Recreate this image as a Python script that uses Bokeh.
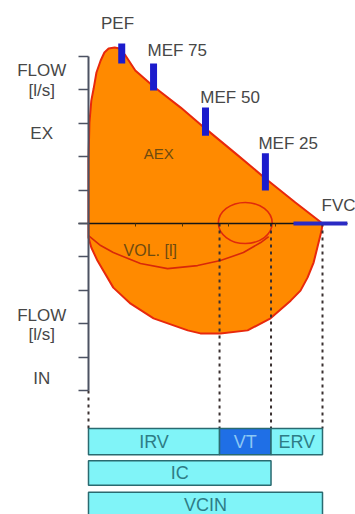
from bokeh.plotting import figure
from bokeh.models import Range1d, LinearAxis, FixedTicker, CustomJSTickFormatter
from bokeh.core.properties import value
from bokeh.embed import file_html
from bokeh.resources import INLINE

# ---------------- data (volume in l, flow in l/s) ----------------
exp_vol = [0.00, 0.00, 0.00, 0.02, 0.06, 0.11, 0.17, 0.26, 0.34, 0.43, 0.56, 0.66, 0.79, 1.00, 1.39, 1.97, 2.50, 3.14, 3.78, 4.42, 5.00]
exp_flow = [0.00, 0.69, 1.89, 3.02, 3.68, 4.04, 4.52, 4.88, 5.12, 5.24, 5.27, 5.24, 5.03, 4.58, 4.10, 3.47, 2.84, 2.10, 1.35, 0.63, 0.00]

insp_vol = [4.98, 4.89, 4.81, 4.68, 4.53, 4.32, 3.89, 3.40, 2.82, 2.39, 2.12, 1.39, 0.90, 0.53, 0.19, 0.06, 0.00]
insp_flow = [-0.21, -0.72, -1.17, -1.62, -2.01, -2.31, -2.84, -3.20, -3.29, -3.29, -3.20, -2.84, -2.40, -1.92, -1.11, -0.72, -0.42]

rest_vol = [0.00, 0.26, 0.53, 1.11, 1.69, 2.33, 2.82, 3.31, 3.68, 3.85]
rest_flow = [-0.36, -0.66, -0.87, -1.20, -1.35, -1.26, -1.11, -0.87, -0.57, -0.39]

tidal_vol = [3.35]
tidal_flow = [0.015]
tidal_width = [1.15]
tidal_height = [1.23]

marker_names = ["PEF", "MEF 75", "MEF 50", "MEF 25"]
marker_vol = [0.71, 1.39, 2.50, 3.78]
marker_low = [4.79, 3.98, 2.63, 0.99]
marker_high = [5.39, 4.79, 3.47, 2.10]

fvc = 5.0
irv_end = 2.8
vt_end = 3.9

flow_ticks = [-5, -4, -3, -2, -1, 0, 1, 2, 3, 4, 5]
vol_ticks = [1, 2, 3, 4]

bar_names = ["IRV", "VT", "ERV", "IC", "VCIN"]
bar_left = [0.0, irv_end, vt_end, 0.0, 0.0]
bar_right = [irv_end, vt_end, fvc, vt_end, fvc]
bar_top = [-6.14, -6.14, -6.14, -7.10, -8.05]
bar_bottom = [-6.92, -6.92, -6.92, -7.84, -8.80]
bar_fill = ["#80f4f8", "#1f6fe6", "#80f4f8", "#80f4f8", "#80f4f8"]
bar_text_color = ["#2e7c86", "#8cc8f4", "#2e7c86", "#2e7c86", "#2e7c86"]

# ---------------- figure ----------------
p = figure(width=355, height=514, output_backend="svg", toolbar_location=None,
           x_range=Range1d(-1.8803, 5.7051), y_range=Range1d(-8.7126, 6.6766),
           x_axis_type=None, y_axis_type=None, min_border=0)
p.outline_line_color = None
p.grid.visible = False
p.background_fill_color = "white"

blank = CustomJSTickFormatter(code="return '';")

yax = LinearAxis(fixed_location=0, ticker=FixedTicker(ticks=flow_ticks, minor_ticks=[]),
                 bounds=(-5, 5), formatter=blank)
yax.axis_line_color = "#4c5262"
yax.axis_line_width = 2
yax.major_tick_line_color = "#4c5262"
yax.major_tick_line_width = 1.5
yax.major_tick_out = 10
yax.major_tick_in = 0
p.add_layout(yax, "left")

xax = LinearAxis(fixed_location=0, ticker=FixedTicker(ticks=vol_ticks, minor_ticks=[]),
                 bounds=(-0.21, 5.53), formatter=blank)
xax.axis_line_color = "#151515"
xax.axis_line_width = 1.5
xax.major_tick_line_color = "#553300"
xax.major_tick_out = 3
xax.major_tick_in = 0
p.add_layout(xax, "below")

# flow-volume loop
p.patch(exp_vol + insp_vol, exp_flow + insp_flow, fill_color="#ff8a00",
        line_color="#e8280c", line_width=2)
p.line(rest_vol, rest_flow, line_color="#d8280a", line_width=1.6)
p.ellipse(x=tidal_vol, y=tidal_flow, width=tidal_width, height=tidal_height,
          fill_color=None, line_color="#e02a0c", line_width=1.6)

# dotted guides
guide_x = [0.0, irv_end, vt_end, fvc]
guide_top = [-5.0, 0.0, 0.0, 0.0]
guide_bot = [bar_top[0]] * 4
p.segment(x0=guide_x, y0=guide_top, x1=guide_x, y1=guide_bot,
          line_color="#3a3030", line_width=2, line_dash="3 4")

# markers
p.segment(x0=marker_vol, y0=marker_low, x1=marker_vol, y1=marker_high,
          line_color="#1c1ccc", line_width=7, line_cap="butt")
p.segment(x0=[4.38], y0=[0], x1=[5.53], y1=[0], line_color="#2a2ac4",
          line_width=4, level="overlay")

# bars
p.quad(left=bar_left, right=bar_right, top=bar_top, bottom=bar_bottom,
       fill_color=bar_fill, line_color="#2a6a70", line_width=1.5)
bar_cx = [(l + r) / 2 for l, r in zip(bar_left, bar_right)]
bar_cy = [(t + b) / 2 for t, b in zip(bar_top, bar_bottom)]
p.text(x=bar_cx, y=bar_cy, text=bar_names, text_color=bar_text_color,
       text_font=value("Liberation Sans"), text_font_size="18px",
       text_align="center", text_baseline="middle")

font = value("Liberation Sans")
lab_col = "#474747"
# marker labels
p.text(x=[0.62], y=[5.99], text=[marker_names[0]], text_font=font, text_font_size="17px",
       text_color=lab_col, text_align="center", text_baseline="middle")
p.text(x=[1.26, 2.39, 3.63, 4.98], y=[5.18, 3.77, 2.40, 0.54],
       text=marker_names[1:] + ["FVC"], text_font=font, text_font_size="17px",
       text_color=lab_col, text_align="left", text_baseline="middle")
# axis labels
p.text(x=[-1.0] * 6, y=[4.58, 3.98, 2.69, -2.75, -3.32, -4.64],
       text=["FLOW", "[l/s]", "EX", "FLOW", "[l/s]", "IN"], text_font=font,
       text_font_size="17px", text_color=lab_col, text_align="center",
       text_baseline="middle")
# inner labels
p.text(x=[1.50], y=[2.10], text=["AEX"], text_font=font, text_font_size="15px",
       text_color="#6e4a10", text_align="center", text_baseline="middle")
p.text(x=[1.32], y=[-0.81], text=["VOL. [l]"], text_font=font, text_font_size="16px",
       text_color="#6e4a10", text_align="center", text_baseline="middle")

open("out.html", "w").write(file_html(p, INLINE))
